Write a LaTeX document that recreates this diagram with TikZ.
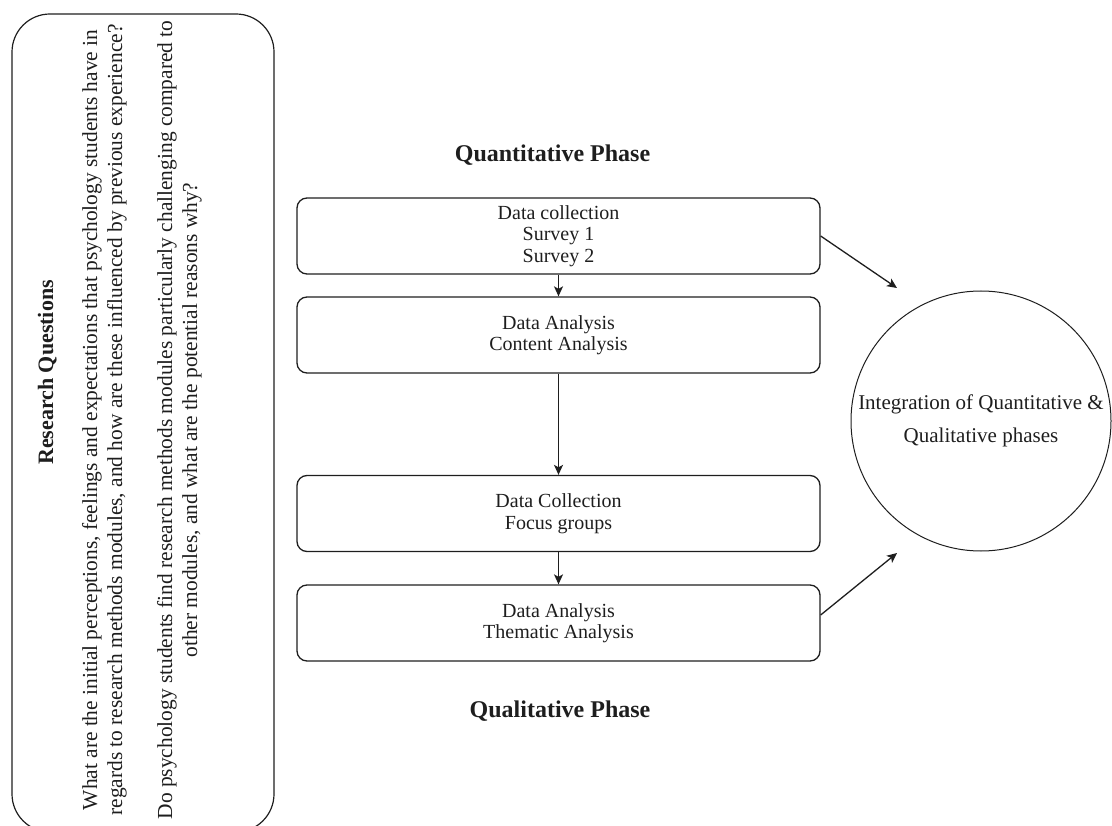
\documentclass[tikz,border=0pt]{standalone}
\usepackage{fontspec}
\setmainfont{Liberation Serif}
\usetikzlibrary{arrows.meta}
\definecolor{ink}{HTML}{1E1E1E}
\begin{document}
\begin{tikzpicture}[x=1pt,y=-1pt,
  outline/.style={draw=ink, line width=1.3pt},
  stagebox/.style={outline, rounded corners=10pt, minimum width=523pt,
    minimum height=76pt, inner sep=0pt, align=center, text=ink,
    font=\fontsize{20}{21.5}\selectfont},
  flow/.style={draw=ink, line width=1.3pt,
    -{Stealth[length=10pt,width=9pt,inset=2.5pt]}},
  phase/.style={font=\bfseries\fontsize{24}{28}\selectfont, inner sep=0pt,
    anchor=base, text=ink},
]
\useasboundingbox (0,0) rectangle (1112,826);

% research questions panel
\node[outline, line width=1.2pt, rounded corners=38pt, minimum width=262pt,
  minimum height=818pt, inner sep=0pt] (panel) at (143,423) {};
\node[rotate=90, anchor=base, inner sep=0pt, text=ink,
  font=\bfseries\fontsize{22}{26}\selectfont] (rqtitle) at (53,372.5)
  {Research Questions};
\node[rotate=90, align=center, inner sep=0pt, text=ink,
  font=\fontsize{21.4}{25}\selectfont] (rqtext) at (142,420)
  {What are the initial perceptions, feelings and expectations that psychology students have in\\
   regards to research methods modules, and how are these influenced by previous experience?\\[25pt]
   Do psychology students find research methods modules particularly challenging compared to\\
   other modules, and what are the potential reasons why?};

% phase labels
\node[phase] (quant) at (552.5,162) {Quantitative Phase};
\node[phase] (qual) at (560,717) {Qualitative Phase};

% stages
\node[stagebox] (b1) at (558.5,236) {Data collection\\Survey 1\\Survey 2};
\node[stagebox] (b2) at (558.5,335) {Data Analysis\\Content Analysis};
\node[stagebox] (b3) at (558.5,513.5) {Data Collection\\Focus groups};
\node[stagebox] (b4) at (558.5,623) {Data Analysis\\Thematic Analysis};

% integration
\node[circle, draw=ink, line width=1pt, minimum size=260pt, inner sep=0pt,
  align=center, text=ink, font=\fontsize{21}{32.5}\selectfont] (integ)
  at (981,421) {Integration of Quantitative \&\\Qualitative phases};

% connectors
\draw[flow] (b1) -- (b2);
\draw[flow] (b2) -- (b3);
\draw[flow] (b3) -- (b4);
\coordinate (quantend) at (897,288);
\coordinate (qualend) at (897,553);
\draw[flow] (b1.east) -- (quantend);
\draw[flow] ([yshift=8pt]b4.east) -- (qualend);
\end{tikzpicture}
\end{document}
